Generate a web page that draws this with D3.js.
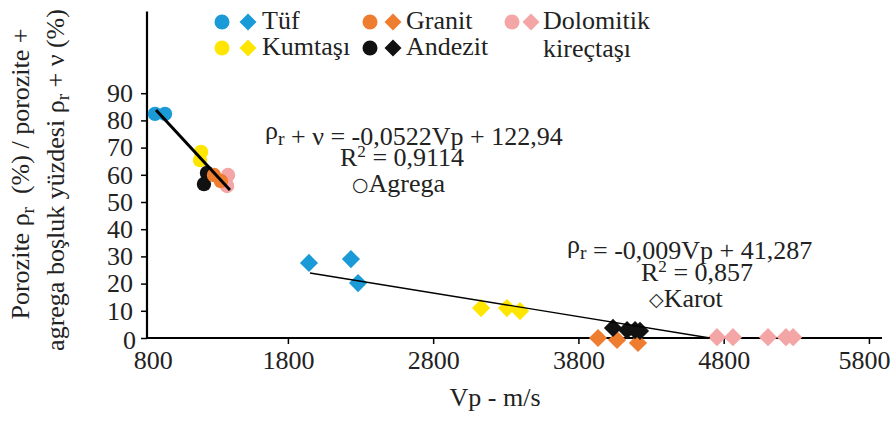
<!DOCTYPE html>
<html><head><meta charset="utf-8">
<script src="https://cdn.jsdelivr.net/npm/d3@7"></script>
<style>
body{margin:0;background:#fff;}
svg{display:block;font-family:"Liberation Serif","Times New Roman",serif;}
</style></head>
<body><svg id="c" width="893" height="427"></svg>
<script>
// ---- data ----
const rockTypes = ["Tüf","Kumtaşı","Granit","Andezit","Dolomitik kireçtaşı"];
const xTicks = [800,1800,2800,3800,4800,5800];
const yTicks = [0,10,20,30,40,50,60,70,80,90];

// Agrega (circles)
const agregaRock = ["Tüf","Tüf","Kumtaşı","Kumtaşı","Dolomitik kireçtaşı","Dolomitik kireçtaşı","Andezit","Andezit","Granit","Granit"];
const agregaVp   = [885, 954, 1202, 1195, 1388, 1381, 1243, 1222, 1291, 1339];
const agregaVal  = [82.4, 82.4, 68.4, 65.4, 59.9, 55.9, 60.7, 56.6, 59.9, 57.7];

// Karot (diamonds)
const karotRock = ["Tüf","Tüf","Tüf","Kumtaşı","Kumtaşı","Kumtaşı","Granit","Granit","Granit","Andezit","Andezit","Andezit","Andezit","Dolomitik kireçtaşı","Dolomitik kireçtaşı","Dolomitik kireçtaşı","Dolomitik kireçtaşı","Dolomitik kireçtaşı"];
const karotVp   = [1945, 2234, 2283, 3130, 3308, 3398, 3935, 4066, 4210, 4038, 4135, 4190, 4224, 4754, 4864, 5105, 5229, 5278];
const karotVal  = [27.6, 29.0, 20.2, 11.0, 11.0, 9.9, 0, -0.7, -1.8, 3.7, 2.9, 2.9, 2.6, 0.3, 0.3, 0.3, 0.3, 0.3];

// trend lines (end points)
const trendAgregaVp = [892, 1401];
const trendAgregaVal = [83.8, 54.4];
const trendKarotVp = [1952, 4706];
const trendKarotVal = [23.9, 0];

// ---- styles ----
const color = {"Tüf":"#1a9bd7","Kumtaşı":"#ffe600","Granit":"#ef7d30","Andezit":"#111111","Dolomitik kireçtaşı":"#f4a5a6"};
const TXT = "#222";

const svg = d3.select("#c");
const x = d3.scaleLinear().domain([830, 5890]).range([147, 882]);
const y = d3.scaleLinear().domain([0, 120]).range([338, 11.6]);

// axes
const xAxis = d3.axisBottom(x).tickValues(xTicks).tickSize(6).tickPadding(7).tickFormat(d3.format("d"));
const gx = svg.append("g").attr("transform", `translate(0,${y(0)})`).call(xAxis);
gx.select(".domain").attr("d", `M${x.range()[0]},0H${x.range()[1]}`).attr("stroke-width", 2.2);
gx.selectAll(".tick line").attr("stroke-width", 1.5).filter(d => d === 800).remove();
gx.selectAll(".tick text").attr("font-size", 26).attr("fill", TXT).attr("font-family", "Liberation Serif")
  .attr("dx", d => d === 800 ? 10 : (d === 5800 ? -5 : 0));

const yAxis = d3.axisLeft(y).tickValues(yTicks).tickSize(6).tickPadding(8);
const gy = svg.append("g").attr("transform", `translate(${x.range()[0]},0)`).call(yAxis);
gy.select(".domain").attr("d", `M0,${y(0)}V${y.range()[1]}`).attr("stroke-width", 2.2);
gy.selectAll(".tick line").attr("stroke-width", 1.5);
gy.selectAll(".tick text").attr("font-size", 26).attr("fill", TXT).attr("font-family", "Liberation Serif")
  .attr("dx", d => d === 0 ? 3 : 0).attr("y", d => d === 0 ? 2 : 0);

// points
const diamond = d3.symbol().type(d3.symbolSquare).size(165);
const agrega = agregaVp.map((v, i) => ({vp: v, val: agregaVal[i], rock: agregaRock[i]}));
const karot = karotVp.map((v, i) => ({vp: v, val: karotVal[i], rock: karotRock[i]}));

svg.append("g").selectAll("path").data(karot).join("path")
  .attr("d", diamond)
  .attr("transform", d => `translate(${x(d.vp)},${y(d.val)}) rotate(45)`)
  .attr("fill", d => color[d.rock]);

svg.append("g").selectAll("circle").data(agrega).join("circle")
  .attr("cx", d => x(d.vp)).attr("cy", d => y(d.val)).attr("r", 7.2)
  .attr("fill", d => color[d.rock]);

// trend lines
const line = d3.line().x(d => x(d[0])).y(d => y(d[1]));
svg.append("path").datum(trendAgregaVp.map((v, i) => [v, trendAgregaVal[i]]))
  .attr("d", line).attr("stroke", "#000").attr("stroke-width", 3).attr("fill", "none");
svg.append("path").datum(trendKarotVp.map((v, i) => [v, trendKarotVal[i]]))
  .attr("d", line).attr("stroke", "#000").attr("stroke-width", 1.3).attr("fill", "none");

// annotations
const FS = 26;
function rhoR(t) {
  t.append("tspan").text("ρ");
  t.append("tspan").text("r").attr("font-size", FS * 0.75).attr("dy", 6);
  t.append("tspan").attr("dy", -6).text("");
}
function r2(t, val) {
  t.append("tspan").text("R");
  t.append("tspan").text("2").attr("font-size", FS * 0.66).attr("dy", -9);
  t.append("tspan").attr("dy", 9).text(" = " + val);
}
let t = svg.append("text").attr("x", 265).attr("y", 139).attr("font-size", FS).attr("fill", TXT);
rhoR(t); t.append("tspan").text(" + ν = -0,0522Vp + 122,94");
t = svg.append("text").attr("x", 340).attr("y", 166).attr("font-size", FS).attr("fill", TXT);
r2(t, "0,9114");
svg.append("text").attr("x", 352).attr("y", 192).attr("font-size", FS).attr("fill", TXT)
  .html('<tspan font-family="DejaVu Sans" font-size="19" dy="-1">○</tspan><tspan dy="1">Agrega</tspan>');

t = svg.append("text").attr("x", 567).attr("y", 253).attr("font-size", FS).attr("fill", TXT);
rhoR(t); t.append("tspan").text(" = -0,009Vp + 41,287");
t = svg.append("text").attr("x", 641).attr("y", 281).attr("font-size", FS).attr("fill", TXT);
r2(t, "0,857");
svg.append("text").attr("x", 649).attr("y", 307).attr("font-size", FS).attr("fill", TXT)
  .html('<tspan font-family="DejaVu Sans" font-size="19" dy="-1">◇</tspan><tspan dy="1">Karot</tspan>');

// legend
const legendItems = [
  {rock: "Tüf", cx: 222, dx: 248, tx: 262, cy: 22, label: ["Tüf"]},
  {rock: "Kumtaşı", cx: 222, dx: 248, tx: 262, cy: 48, label: ["Kumtaşı"]},
  {rock: "Granit", cx: 370, dx: 393, tx: 406, cy: 22, label: ["Granit"]},
  {rock: "Andezit", cx: 370, dx: 393, tx: 406, cy: 48, label: ["Andezit"]},
  {rock: "Dolomitik kireçtaşı", cx: 512, dx: 531, tx: 543, cy: 22, label: ["Dolomitik", "kireçtaşı"]}
];
const legendDiamond = d3.symbol().type(d3.symbolSquare).size(145);
const lg = svg.append("g");
legendItems.forEach(it => {
  lg.append("circle").attr("cx", it.cx).attr("cy", it.cy).attr("r", 7.5).attr("fill", color[it.rock]);
  lg.append("path").attr("d", legendDiamond).attr("transform", `translate(${it.dx},${it.cy}) rotate(45)`).attr("fill", color[it.rock]);
  it.label.forEach((s, k) => {
    lg.append("text").attr("x", it.tx).attr("y", it.cy + 7 + k * 28).attr("font-size", 26).attr("fill", TXT).text(s);
  });
});

// axis titles
svg.append("text").attr("x", 495).attr("y", 406).attr("text-anchor", "middle").attr("font-size", 26).attr("fill", TXT).text("Vp - m/s");

const yt = svg.append("text").attr("transform", "translate(29,174) rotate(-90)").attr("text-anchor", "middle").attr("font-size", 26).attr("fill", TXT);
yt.append("tspan").text("Porozite ρ");
yt.append("tspan").text("r").attr("font-size", 19).attr("dy", 5);
yt.append("tspan").attr("dy", -5).text("\u00a0\u00a0(%) / porozite +");
const yt2 = svg.append("text").attr("transform", "translate(64,180) rotate(-90)").attr("text-anchor", "middle").attr("font-size", 26).attr("fill", TXT);
yt2.append("tspan").text("agrega boşluk yüzdesi ρ");
yt2.append("tspan").text("r").attr("font-size", 19).attr("dy", 5);
yt2.append("tspan").attr("dy", -5).text(" + ν (%)");
</script></body></html>
